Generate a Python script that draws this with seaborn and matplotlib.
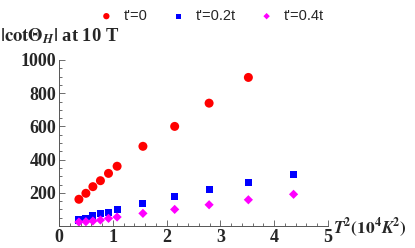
import numpy as np
import pandas as pd
import seaborn as sns
import matplotlib.pyplot as plt
from matplotlib.ticker import MultipleLocator

# datos
t2_a = [0.37, 0.50, 0.63, 0.77, 0.92, 1.08, 1.56, 2.15, 2.79, 3.52]
cot_a = [161, 197, 237, 273, 317, 360, 480, 600, 740, 895]

t2_b = [0.37, 0.50, 0.63, 0.77, 0.92, 1.08, 1.56, 2.15, 2.79, 3.52, 4.36]
cot_b = [36, 46, 60, 74, 84, 100, 137, 179, 221, 263, 311]

t2_c = [0.37, 0.50, 0.63, 0.77, 0.92, 1.08, 1.56, 2.15, 2.79, 3.52, 4.36]
cot_c = [24, 26, 30, 36, 46, 54, 76, 100, 128, 158, 191]

series = ["t'=0", "t'=0.2t", "t'=0.4t"]

df = pd.concat([
    pd.DataFrame({'T2': t2_a, 'cot': cot_a, 'serie': series[0]}),
    pd.DataFrame({'T2': t2_b, 'cot': cot_b, 'serie': series[1]}),
    pd.DataFrame({'T2': t2_c, 'cot': cot_c, 'serie': series[2]}),
])

sns.set_style('ticks')
plt.rcParams['font.family'] = ['Liberation Serif', 'DejaVu Serif']
plt.rcParams['font.weight'] = 'bold'
plt.rcParams['mathtext.fontset'] = 'stix'

fig = plt.figure(figsize=(4.15, 2.48), dpi=100)
ax = fig.add_axes([59/415, 1-226/248, 269/415, 166/248])

colores = {series[0]: '#ff0000', series[1]: '#0000ff', series[2]: '#ff00ff'}
marcas = {series[0]: 'o', series[1]: 's', series[2]: 'D'}
tam = {series[0]: 42, series[1]: 26, series[2]: 22}
for s in series:
    d = df[df['serie'] == s]
    sns.scatterplot(data=d, x='T2', y='cot', color=colores[s], marker=marcas[s],
                    s=tam[s], edgecolor='none', ax=ax, label=s, legend=False)

ax.set_xlim(0, 5)
ax.set_ylim(0, 1000)
ax.set_xticks([0, 1, 2, 3, 4, 5])
ax.set_yticks([200, 400, 600, 800, 1000])
ax.xaxis.set_minor_locator(MultipleLocator(0.2))
ax.yaxis.set_minor_locator(MultipleLocator(50))
ax.tick_params(which='both', direction='in', color='#555555', width=0.6)
ax.tick_params(which='major', length=4, labelsize=13, pad=2)
ax.tick_params(which='minor', length=2)
for lab in ax.get_xticklabels() + ax.get_yticklabels():
    lab.set_fontweight('bold')
for sp in ['top', 'right']:
    ax.spines[sp].set_visible(False)
for sp in ['left', 'bottom']:
    ax.spines[sp].set_color('#555555')
    ax.spines[sp].set_linewidth(0.7)
ax.set_xlabel('')
ax.set_ylabel('')

fig.text(0, 1-36/248, r'$\mathbf{|cot\Theta}_{\mathit{H}}\mathbf{|}$ at 10 T', fontsize=13.3,
         fontweight='bold', va='center', ha='left')
fig.text(333/415, 1-228/248, r'$\mathbfit{T}^\mathbf{2}\mathbf{(10^4}\mathbfit{K}^\mathbf{2}\mathbf{)}$',
         fontsize=12.5, va='center', ha='left')

handles, labels = ax.get_legend_handles_labels()
leg = fig.legend(handles, labels, loc='center', bbox_to_anchor=(208/415, 1-16/248),
                 ncol=3, frameon=False, handletextpad=0.2, columnspacing=1.1,
                 markerscale=0.7, prop={'family': 'Liberation Sans', 'size': 10.5, 'weight': 'normal'})

fig.savefig('out.png', dpi=100)
